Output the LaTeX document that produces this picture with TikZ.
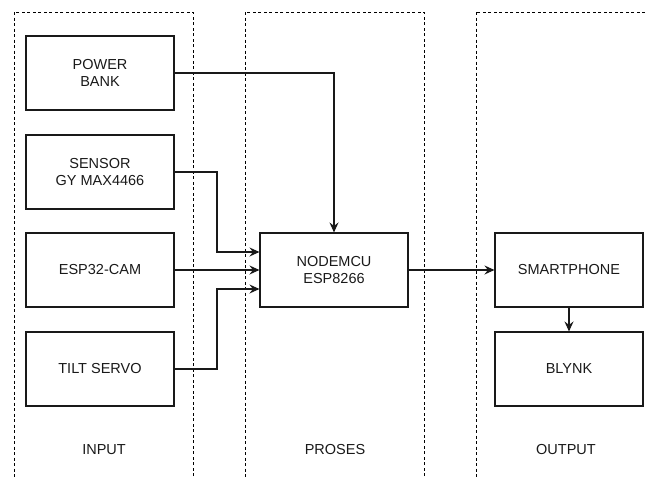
\documentclass[tikz,border=0pt]{standalone}
\usepackage{fontspec}
\setmainfont{Liberation Sans}
\usetikzlibrary{arrows.meta,positioning}
\begin{document}
\begin{tikzpicture}[x=1pt,y=-1pt,
  blk/.style={draw=black!90,line width=1.1pt,minimum width=148pt,minimum height=74pt,inner sep=0pt,align=center,font=\fontsize{14.5}{16.5}\selectfont,text=black!90},
  grp/.style={draw=black,line width=1pt,dash pattern=on 3pt off 2.5pt},
  lbl/.style={font=\fontsize{14.5}{16.5}\selectfont,text=black!90},
  con/.style={draw=black!90,line width=1.1pt},
  arr/.style={con,-{Stealth[length=10pt,width=9pt,inset=3.5pt]}}]
\useasboundingbox (0,0) rectangle (645,477);
\clip (0,0) rectangle (645,477);
% group containers
\draw[grp] (14,12) rectangle (193,490);
\draw[grp] (245,12) rectangle (424,490);
\draw[grp] (476,12) rectangle (660,490);
\node[lbl] (lin) at (104,450) {INPUT};
\node[lbl] (lpr) at (335,450) {PROSES};
\node[lbl] (lout) at (566,450) {OUTPUT};
% blocks
\node[blk] (pb) at (100,73) {POWER\\BANK};
\node[blk] (sen) at (100,172) {SENSOR\\GY MAX4466};
\node[blk] (cam) at (100,270) {ESP32-CAM};
\node[blk] (tilt) at (100,369) {TILT SERVO};
\node[blk] (mcu) at (334,270) {NODEMCU\\ESP8266};
\node[blk] (sp) at (569,270) {SMARTPHONE};
\node[blk] (bl) at (569,369) {BLYNK};
% connectors
\draw[arr] (pb.east) -| (mcu.north);
\draw[arr] (sen.east) -- (217,172) -- (217,252) -- (mcu.west |- 0,252);
\draw[arr] (cam.east) -- (mcu.west);
\draw[arr] (tilt.east) -- (217,369) -- (217,289) -- (mcu.west |- 0,289);
\draw[arr] (mcu.east) -- (sp.west);
\draw[arr] (sp.south) -- (bl.north);
\end{tikzpicture}
\end{document}
